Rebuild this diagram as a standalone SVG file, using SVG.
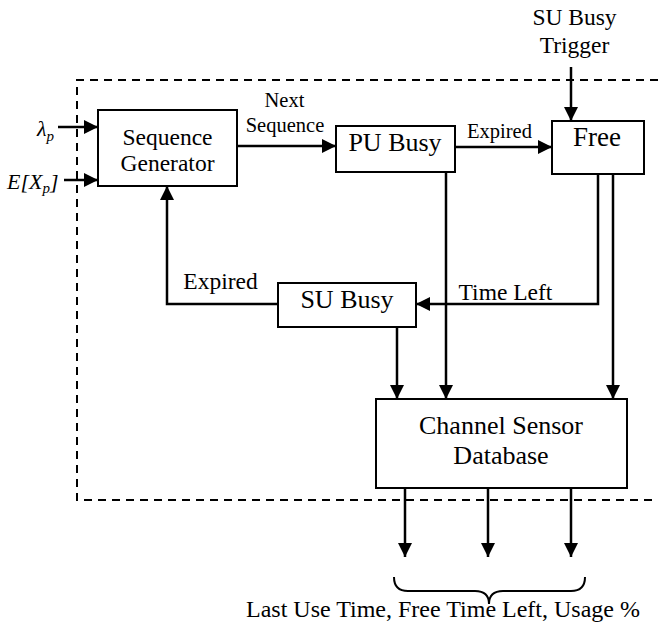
<svg xmlns="http://www.w3.org/2000/svg" width="658" height="628" viewBox="0 0 658 628">
  <style>
    .box { fill: #fff; stroke: #000; stroke-width: 2; }
    .wire { fill: none; stroke: #000; stroke-width: 2.5; }
    .frame { fill: none; stroke: #000; stroke-width: 2; stroke-dasharray: 8 6; }
    text { font-family: "Liberation Serif", "Times New Roman", serif; fill: #000; text-anchor: middle; }
    .it { font-style: italic; text-anchor: start; }
  </style>
  <defs>
    <marker id="arrow" markerUnits="userSpaceOnUse" markerWidth="14" markerHeight="14" refX="14" refY="7" orient="auto">
      <path d="M0,0 L14,7 L0,14 Z" fill="#000"/>
    </marker>
  </defs>

  <!-- system boundary (right side runs off the page) -->
  <path class="frame" d="M658,80 H77 V500 H658"/>

  <g id="seq-gen">
    <rect class="box" x="98" y="110" width="139" height="76"/>
    <text x="167.5" y="145" font-size="23.5">Sequence</text>
    <text x="167.5" y="171" font-size="23.5">Generator</text>
  </g>

  <g id="pu-busy">
    <rect class="box" x="336" y="126" width="119" height="46"/>
    <text x="395" y="151" font-size="26">PU Busy</text>
  </g>

  <g id="free">
    <rect class="box" x="552" y="121" width="92" height="53"/>
    <text x="597" y="146" font-size="27">Free</text>
  </g>

  <g id="su-busy">
    <rect class="box" x="278" y="283" width="138" height="44"/>
    <text x="347" y="308" font-size="26">SU Busy</text>
  </g>

  <g id="db">
    <rect class="box" x="376" y="399" width="251" height="89"/>
    <text x="501" y="434" font-size="26">Channel Sensor</text>
    <text x="501" y="464" font-size="26">Database</text>
  </g>

  <g id="connectors">
    <path class="wire" marker-end="url(#arrow)" d="M58,127 H98"/>
    <path class="wire" marker-end="url(#arrow)" d="M64,180 H98"/>
    <path class="wire" marker-end="url(#arrow)" d="M237,146 H336"/>
    <path class="wire" marker-end="url(#arrow)" d="M455,147 H552"/>
    <path class="wire" marker-end="url(#arrow)" d="M571,67 V121"/>
    <path class="wire" marker-end="url(#arrow)" d="M446,172 V399"/>
    <path class="wire" marker-end="url(#arrow)" d="M598,174 V304 H416"/>
    <path class="wire" marker-end="url(#arrow)" d="M613,174 V399"/>
    <path class="wire" marker-end="url(#arrow)" d="M397,327 V399"/>
    <path class="wire" marker-end="url(#arrow)" d="M278,304 H167 V186"/>
    <path class="wire" marker-end="url(#arrow)" d="M405,488 V557"/>
    <path class="wire" marker-end="url(#arrow)" d="M488,488 V557"/>
    <path class="wire" marker-end="url(#arrow)" d="M571,488 V557"/>
    <!-- brace grouping the three outputs -->
    <path fill="none" stroke="#000" stroke-width="2" d="M394,577 Q394,591 408,591 L475,591 Q489,591 489,604 Q489,591 503,591 L571,591 Q585,591 585,577"/>
  </g>

  <!-- inputs -->
  <text class="it" x="37" y="136" font-size="22">λ<tspan font-size="15" dy="5">p</tspan></text>
  <text class="it" x="7" y="189" font-size="22">E[X<tspan font-size="15" dy="4">p</tspan><tspan dy="-4">]</tspan></text>

  <!-- connector labels -->
  <text x="284.5" y="107" font-size="20.5">Next</text>
  <text x="285" y="132" font-size="20.5">Sequence</text>
  <text x="499.5" y="138" font-size="20.5">Expired</text>
  <text x="220.5" y="289" font-size="23.5">Expired</text>
  <text x="505.5" y="300" font-size="23.5">Time Left</text>
  <text x="574.5" y="25" font-size="23.5">SU Busy</text>
  <text x="574.5" y="53" font-size="23.5">Trigger</text>

  <text x="443" y="617" font-size="24">Last Use Time, Free Time Left, Usage %</text>
</svg>
